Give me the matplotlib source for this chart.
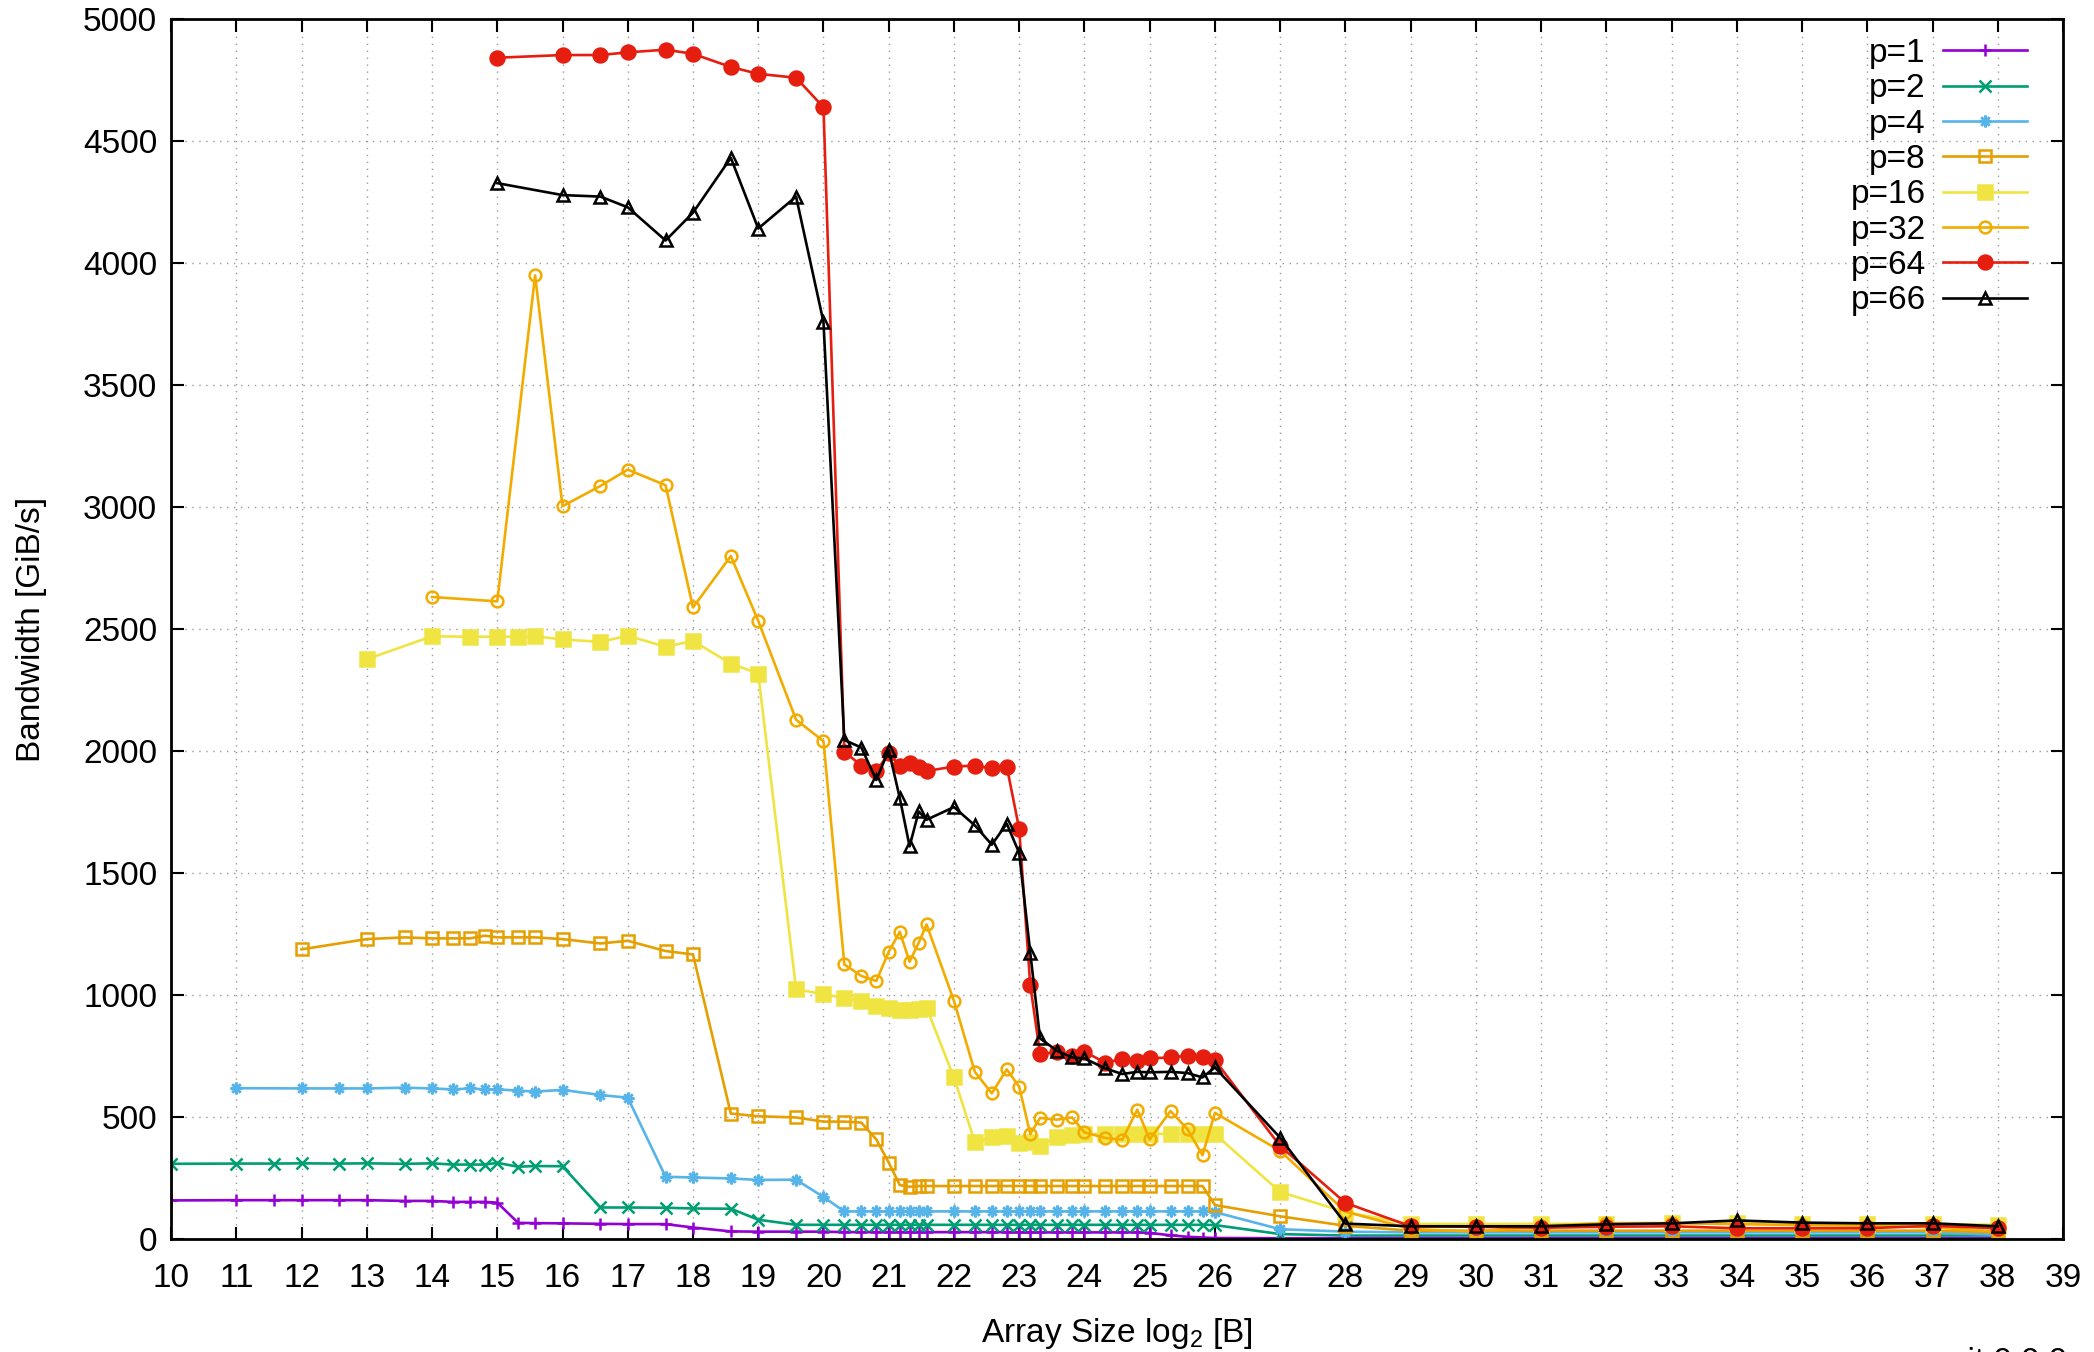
import numpy as np
import matplotlib.pyplot as plt

plt.rcParams['font.family'] = ['Liberation Sans', 'DejaVu Sans']
plt.rcParams['mathtext.fontset'] = 'custom'
plt.rcParams['mathtext.rm'] = 'Liberation Sans'

# array sizes, log2 [B]
x_p1 = [10, 11, 11.58, 12, 12.58, 13, 13.58, 14, 14.32, 14.58, 14.81, 15, 15.32, 15.58,
        16, 16.58, 17, 17.58, 18, 18.58, 19, 19.58, 20, 20.32, 20.58, 20.81,
        21, 21.17, 21.32, 21.46, 21.58, 22, 22.32, 22.58, 22.81, 23, 23.17, 23.32, 23.58, 23.81,
        24, 24.32, 24.58, 24.81, 25, 25.32, 25.58, 25.81, 26,
        27, 28, 29, 30, 31, 32, 33, 34, 35, 36, 37, 38]
x_p4 = [11, 12, 12.58, 13, 13.58, 14, 14.32, 14.58, 14.81, 15, 15.32, 15.58,
        16, 16.58, 17, 17.58, 18, 18.58, 19, 19.58, 20, 20.32, 20.58, 20.81,
        21, 21.17, 21.32, 21.46, 21.58, 22, 22.32, 22.58, 22.81, 23, 23.17, 23.32, 23.58, 23.81,
        24, 24.32, 24.58, 24.81, 25, 25.32, 25.58, 25.81, 26,
        27, 28, 29, 30, 31, 32, 33, 34, 35, 36, 37, 38]
x_p8 = [12, 13, 13.58, 14, 14.32, 14.58, 14.81, 15, 15.32, 15.58,
        16, 16.58, 17, 17.58, 18, 18.58, 19, 19.58, 20, 20.32, 20.58, 20.81,
        21, 21.17, 21.32, 21.46, 21.58, 22, 22.32, 22.58, 22.81, 23, 23.17, 23.32, 23.58, 23.81,
        24, 24.32, 24.58, 24.81, 25, 25.32, 25.58, 25.81, 26,
        27, 28, 29, 30, 31, 32, 33, 34, 35, 36, 37, 38]
x_p16 = [13, 14, 14.58, 15, 15.32, 15.58,
         16, 16.58, 17, 17.58, 18, 18.58, 19, 19.58, 20, 20.32, 20.58, 20.81,
         21, 21.17, 21.32, 21.46, 21.58, 22, 22.32, 22.58, 22.81, 23, 23.17, 23.32, 23.58, 23.81,
         24, 24.32, 24.58, 24.81, 25, 25.32, 25.58, 25.81, 26,
         27, 28, 29, 30, 31, 32, 33, 34, 35, 36, 37, 38]
x_p32 = [14, 15, 15.58,
         16, 16.58, 17, 17.58, 18, 18.58, 19, 19.58, 20, 20.32, 20.58, 20.81,
         21, 21.17, 21.32, 21.46, 21.58, 22, 22.32, 22.58, 22.81, 23, 23.17, 23.32, 23.58, 23.81,
         24, 24.32, 24.58, 24.81, 25, 25.32, 25.58, 25.81, 26,
         27, 28, 29, 30, 31, 32, 33, 34, 35, 36, 37, 38]
x_p64 = [15,
         16, 16.58, 17, 17.58, 18, 18.58, 19, 19.58, 20, 20.32, 20.58, 20.81,
         21, 21.17, 21.32, 21.46, 21.58, 22, 22.32, 22.58, 22.81, 23, 23.17, 23.32, 23.58, 23.81,
         24, 24.32, 24.58, 24.81, 25, 25.32, 25.58, 25.81, 26,
         27, 28, 29, 30, 31, 32, 33, 34, 35, 36, 37, 38]

# bandwidth [GiB/s]
bw_p1 = [158, 159, 159, 159, 159, 159, 156, 156, 152, 152, 152, 149, 66, 65,
         64, 62, 61, 61, 47, 31, 30, 30, 30, 28, 28, 28,
         28, 28, 28, 28, 28, 28, 28, 28, 28, 27, 27, 27, 27, 27,
         27, 27, 27, 27, 25, 15, 9, 6, 4,
         3, 3, 3, 3, 3, 3, 3, 3, 3, 3, 3, 3]
bw_p2 = [308, 309, 309, 310, 309, 310, 308, 310, 305, 305, 305, 312, 296, 299,
         298, 129, 129, 128, 125, 124, 79, 58, 58, 58, 58, 58,
         58, 58, 58, 58, 58, 58, 58, 58, 58, 58, 58, 58, 58, 58,
         58, 58, 58, 58, 58, 58, 58, 58, 57,
         20, 14, 14, 14, 14, 14, 14, 14, 14, 14, 14, 14]
bw_p4 = [618, 617, 617, 617, 620, 617, 613, 617, 613, 613, 608, 604,
         611, 590, 579, 255, 252, 248, 242, 243, 172, 113, 113, 113,
         113, 113, 113, 113, 113, 113, 113, 113, 113, 113, 113, 113, 113, 113,
         113, 113, 113, 113, 113, 113, 113, 113, 110,
         40, 30, 27, 27, 27, 27, 27, 27, 27, 27, 27, 17]
bw_p8 = [1187, 1229, 1236, 1232, 1232, 1232, 1243, 1236, 1236, 1236,
         1229, 1211, 1222, 1180, 1166, 514, 503, 498, 481, 481, 477, 408,
         313, 221, 214, 217, 217, 217, 217, 217, 217, 217, 217, 217, 217, 217,
         217, 217, 217, 217, 217, 217, 217, 217, 139,
         93, 54, 34, 34, 34, 34, 34, 34, 34, 34, 34, 27]
bw_p16 = [2376, 2470, 2468, 2468, 2468, 2470,
          2457, 2447, 2472, 2427, 2451, 2358, 2317, 1024, 1003, 988, 976, 955,
          945, 937, 939, 944, 948, 662, 397, 417, 422, 393, 398, 383, 417, 428,
          430, 430, 430, 430, 432, 430, 430, 430, 430,
          193, 110, 62, 62, 62, 62, 64, 64, 62, 62, 62, 58]
bw_p32 = [2631, 2613, 3949,
          3003, 3086, 3153, 3089, 2588, 2799, 2533, 2128, 2040, 1125, 1078, 1057,
          1177, 1259, 1136, 1214, 1289, 976, 685, 597, 695, 624, 430, 496, 489, 498,
          437, 414, 407, 530, 408, 524, 450, 343, 517,
          361, 112, 41, 30, 54, 65, 65, 61, 57, 54, 48, 30]
bw_p64 = [4841,
          4852, 4852, 4863, 4874, 4857, 4803, 4775, 4759, 4638, 1997, 1940, 1916,
          1990, 1940, 1950, 1936, 1918, 1936, 1940, 1929, 1936, 1681, 1041, 757, 767, 751,
          767, 723, 737, 730, 740, 744, 751, 747, 733,
          381, 148, 52, 50, 46, 50, 52, 44, 44, 44, 54, 44]
bw_p66 = [4327,
          4278, 4272, 4228, 4092, 4206, 4431, 4141, 4272, 3758, 2045, 2014, 1881,
          2004, 1807, 1609, 1752, 1718, 1770, 1695, 1616, 1702, 1582, 1173, 822, 771, 744,
          740, 699, 676, 685, 683, 685, 680, 662, 703,
          415, 63, 52, 52, 52, 60, 64, 76, 67, 64, 64, 52]

series = [
    ("p=1", x_p1, bw_p1, "#9400D3", "+", True),
    ("p=2", x_p1, bw_p2, "#009E73", "x", True),
    ("p=4", x_p4, bw_p4, "#56B4E9", (8, 2, 0), True),
    ("p=8", x_p8, bw_p8, "#E69F00", "s", False),
    ("p=16", x_p16, bw_p16, "#F0E442", "s", True),
    ("p=32", x_p32, bw_p32, "#F2AC00", "o", False),
    ("p=64", x_p64, bw_p64, "#E51E10", "o", True),
    ("p=66", x_p64, bw_p66, "#000000", "^", False),
]

FS = 24

fig = plt.figure(figsize=(20.94, 13.52), dpi=100)
ax = fig.add_axes([0.0817, 0.0836, 0.9035, 0.9024])

for lab, xs, ys, col, mk, filled in series:
    ms = 10 if mk in ("s", "o") and filled else 8.5
    ax.plot(xs, ys, color=col, lw=1.9, marker=mk, ms=ms,
            mfc=col if filled else "none", mec=col, mew=1.8, label=lab)

ax.set_xlim(10, 39)
ax.set_ylim(0, 5000)
ax.set_xticks(np.arange(10, 40, 1))
ax.set_yticks(np.arange(0, 5001, 500))
ax.grid(True, ls=(0, (1, 4)), color="#999999", lw=1.0)
ax.tick_params(direction="in", top=True, right=True, length=9, width=1.5,
               labelsize=FS)
ax.tick_params(axis="x", pad=17)
ax.tick_params(axis="y", pad=10)
for s in ax.spines.values():
    s.set_linewidth(2)

ax.set_xlabel("Array Size log$_2$ [B]", fontsize=FS)
ax.set_ylabel("Bandwidth [GiB/s]", fontsize=FS)
ax.xaxis.set_label_coords(0.5, -0.063)
ax.yaxis.set_label_coords(-0.0655, 0.5)

leg = ax.legend(loc="upper right", bbox_to_anchor=(0.981, 0.9845),
                markerfirst=False, frameon=False, fontsize=FS,
                handlelength=2.52, labelspacing=0.13, borderaxespad=0,
                borderpad=0, handletextpad=0.52)

fig.text(2067 / 2094, 1 - 1347 / 1352, "git 0.0.0", ha="right", va="top",
         fontsize=FS)

fig.savefig("out.png", dpi=100)
